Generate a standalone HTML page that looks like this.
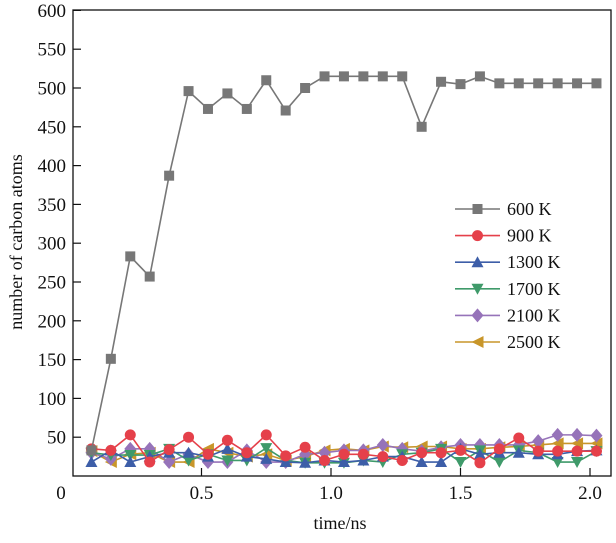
<!DOCTYPE html>
<html><head><meta charset="utf-8"><style>
html,body{margin:0;padding:0;background:#fff;}
svg text{font-family:"Liberation Serif","DejaVu Serif",serif;fill:#111;}
</style></head><body>
<svg id="chart" width="616" height="538" viewBox="0 0 616 538" xmlns="http://www.w3.org/2000/svg" font-family="Liberation Serif, serif"></svg>
<script>
const xIndex = [1,2,3,4,5,6,7,8,9,10,11,12,13,14,15,16,17,18,19,20,21,22,23,24,25,26,27];
const xStep = 0.075;
const s600 = [33,151,283,257,387,496,473,493,473,510,471,500,515,515,515,515,515,450,508,505,515,506,506,506,506,506,506];
const s900 = [35,33,53,18,34,50,28,46,30,53,26,37,20,28,28,25,20,30,30,33,17,35,49,32,32,32,32];
const s1300 = [18,33,18,25,30,30,25,35,25,22,18,17,20,18,20,25,25,18,18,35,28,30,30,28,28,32,33];
const s1700 = [30,27,27,27,35,20,28,20,20,36,20,17,17,17,20,18,28,30,35,18,33,18,33,30,18,18,32];
const s2100 = [30,22,35,35,18,28,18,18,33,18,18,28,30,33,33,40,35,32,37,40,40,40,40,45,53,53,52];
const s2500 = [32,18,28,30,18,18,35,30,25,28,20,25,33,35,33,38,37,38,38,35,35,37,38,40,42,42,42];
const seriesNames = ["600 K","900 K","1300 K","1700 K","2100 K","2500 K"];
const xTicks = [0.5,1.0,1.5,2.0];
const xTickLabels = ["0.5","1.0","1.5","2.0"];
const yTicks = [50,100,150,200,250,300,350,400,450,500,550,600];

const NS="http://www.w3.org/2000/svg";
const svg=document.getElementById('chart');
const L=73,R=611,T=10,B=476;
const FONT='"Liberation Serif", "DejaVu Serif", serif';
function xs(v){return 72+v*259;}
function ys(v){return 476-v*0.776;}
function mk(tag,attrs,parent){const e=document.createElementNS(NS,tag);for(const k in attrs)e.setAttribute(k,attrs[k]);if(tag==='text'){e.setAttribute('font-family',FONT);e.style.fontFamily=FONT;}(parent||svg).appendChild(e);return e;}

const frame=mk('rect',{x:L,y:T,width:R-L,height:B-T,fill:'none',stroke:'#111','stroke-width':1.3});



yTicks.forEach(v=>{
  const t=mk('line',{x1:L,x2:L+8,y1:ys(v),y2:ys(v),stroke:'#111','stroke-width':1.2});
  
  
  const tx=mk('text',{x:66,y:ys(v)+6.5,'text-anchor':'end','font-size':19});
  tx.textContent=String(v);
  
  
});
xTicks.forEach((v,i)=>{
  const t=mk('line',{x1:xs(v),x2:xs(v),y1:B,y2:B-8,stroke:'#111','stroke-width':1.2});
  
  
  const tx=mk('text',{x:xs(v),y:499,'text-anchor':'middle','font-size':19});
  tx.textContent=xTickLabels[i];
  
  
});
const z=mk('text',{x:61,y:499,'text-anchor':'middle','font-size':19});z.textContent='0';



const xt=mk('text',{x:340,y:529,'text-anchor':'middle','font-size':18});xt.textContent='time/ns';


const yt=mk('text',{x:0,y:0,'text-anchor':'middle','font-size':18,transform:'translate(22,242) rotate(-90)'});yt.textContent='number of carbon atoms';



const colors=['#777777','#e5404a','#3d5ea8','#3f9a6a','#9673b9','#c8962a'];
const shapes=['square','circle','up','down','diamond','left'];
const data=[s600,s900,s1300,s1700,s2100,s2500];

function marker(g,shape,x,y,c,r){
  let e;
  if(shape==='square')e=mk('rect',{x:x-r,y:y-r,width:2*r,height:2*r,fill:c},g);
  else if(shape==='circle')e=mk('circle',{cx:x,cy:y,r:r+0.5,fill:c},g);
  else if(shape==='up')e=mk('polygon',{points:`${x},${y-r-1} ${x-r-1},${y+r} ${x+r+1},${y+r}`,fill:c},g);
  else if(shape==='down')e=mk('polygon',{points:`${x},${y+r+1} ${x-r-1},${y-r} ${x+r+1},${y-r}`,fill:c},g);
  else if(shape==='diamond')e=mk('polygon',{points:`${x},${y-r-2} ${x+r+1},${y} ${x},${y+r+2} ${x-r-1},${y}`,fill:c},g);
  else e=mk('polygon',{points:`${x-r-1},${y} ${x+r+1},${y-r-1} ${x+r+1},${y+r+1}`,fill:c},g);
  return e;
}

for(let s=data.length-1;s>=0;s--){
  const g=mk('g',{});
  
  
  const pts=data[s].map((v,i)=>xs(xIndex[i]*xStep)+','+ys(v)).join(' ');
  const pl=mk('polyline',{points:pts,fill:'none',stroke:colors[s],'stroke-width':1.6},g);
  
  
  data[s].forEach((v,i)=>{
    const m=marker(g,shapes[s],xs(xIndex[i]*xStep),ys(v),colors[s],5);
    
    
  });
}

const lg=mk('g',{});


seriesNames.forEach((n,i)=>{
  const y=209+i*26.6;
  const ln=mk('line',{x1:455,x2:500,y1:y,y2:y,stroke:colors[i],'stroke-width':1.6},lg);
  
  
  const m=marker(lg,shapes[i],477.5,y,colors[i],5);
  
  
  const t=mk('text',{x:507,y:y+6,'font-size':18},lg);
  t.textContent=n;
  
  
});
</script>
</body></html>
